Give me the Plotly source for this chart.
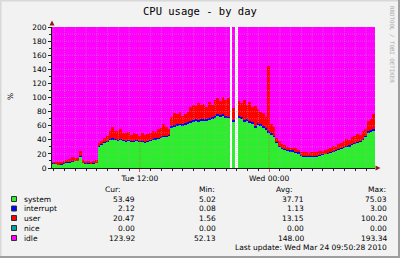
import plotly.graph_objects as go
import pandas as pd

# ---------------- data ----------------
START = "2010-03-23 03:50"
END = "2010-03-24 09:50"
sample_times = pd.date_range(START, periods=120, freq="15min")

system = [7, 6, 5, 5, 6,
          8, 8, 9, 10, 10, 16,
          8, 7, 7, 6, 7, 8,
          30,
          33, 36, 38, 40, 41, 40, 39, 40, 39,
          38, 39, 37, 38, 39, 37, 38, 36, 38,
          39, 40, 41, 42, 43, 44, 45, 46,
          57, 59, 60, 61, 60, 62, 63,
          65, 66, 67, 66, 68, 67, 68, 69, 70,
          72, 74, 73, 74, 72, 71,
          None, 66, None,
          72, 70, 66, 68, 65, 63, 58, 62, 60, 57, 55, 50,
          48, 45, 36, 30,
          28, 26, 25, 24, 24, 22, 21,
          18, 17, 16, 16, 16, 17, 17, 18,
          19, 20, 21, 22, 23, 25, 26, 27, 29, 30, 31, 33, 35, 36, 38, 40, 44, 50, 52, 53]

interrupt = [0.5, 0.5, 0.5, 0.5, 0.5, 0.5, 0.5, 0.5, 0.5, 0.5, 0.5, 0.5, 0.5, 0.5, 0.5, 0.5, 0.5,
             1, 1, 1, 1, 1, 1, 1, 1, 1, 1, 1, 1, 1, 1, 1, 1, 1, 1, 1, 1, 1, 1, 1, 1, 1, 1, 1,
             2, 2, 2, 2, 2, 2, 2, 2, 2, 2, 2, 2, 2, 2, 2, 2, 2, 2, 2, 2, 2, 2,
             None, 2, None,
             2, 2, 2, 2, 2, 2, 2, 2, 2, 2, 2, 2,
             1, 1, 1, 1, 1, 1, 1, 1, 1, 1, 1,
             0.5, 0.5, 0.5, 0.5, 0.5, 0.5, 0.5, 0.5, 0.5, 0.5, 0.5, 0.5, 0.5, 0.5,
             1, 1, 1, 1, 1, 1, 1, 1, 1, 1,
             2, 2, 2, 2]

user = [1.5, 2.5, 2.5, 3.5, 3.5,
        3.5, 4.5, 5.5, 3.5, 3.5, 7.5,
        2.5, 2.5, 2.5, 2.5, 2.5, 2.5,
        4,
        4, 5, 7, 11, 16, 12, 12, 14, 10,
        10, 11, 9, 11, 8, 8, 10, 10, 9,
        10, 12, 9, 12, 13, 18, 12, 9,
        13, 17, 14, 17, 12, 13, 14,
        19, 22, 19, 24, 19, 22, 17, 22, 18,
        23, 24, 20, 25, 22, 26,
        None, 17, None,
        21, 20, 28, 20, 26, 21, 28, 20, 18, 19, 15, 93,
        13, 12, 5, 7,
        5, 5, 4, 4, 3, 5, 4,
        4.5, 4.5, 5.5, 4.5, 5.5, 5.5, 4.5, 5.5,
        4.5, 5.5, 5.5, 6.5, 7.5, 4.5,
        7, 8, 8, 10, 8, 10, 9, 11, 8, 11,
        9, 14, 16, 21]

idle = [191, 191, 192, 191, 190,
        188, 187, 185, 186, 186, 176,
        189, 190, 190, 191, 190, 189,
        165,
        162, 158, 154, 148, 142, 147, 148, 145, 150,
        151, 149, 153, 150, 152, 154, 151, 153, 152,
        150, 147, 149, 145, 143, 137, 142, 144,
        128, 122, 124, 120, 126, 123, 121,
        114, 110, 112, 108, 111, 109, 113, 107, 110,
        103, 100, 105, 99, 104, 101,
        None, 115, None,
        105, 108, 104, 110, 107, 114, 112, 116, 120, 122, 128, 55,
        138, 142, 158, 162,
        166, 168, 170, 171, 172, 172, 174,
        177, 178, 178, 179, 178, 177, 178, 176,
        176, 174, 173, 171, 169, 170, 166, 164, 162, 159, 160, 156, 155, 152, 153, 148, 145, 134, 130, 124]

legend_names = ["system", "interrupt", "user", "nice", "idle"]
legend_cur = ["53.49", "2.12", "20.47", "0.00", "123.92"]
legend_min = ["5.02", "0.08", "1.56", "0.00", "52.13"]
legend_avg = ["37.71", "1.13", "13.15", "0.00", "148.00"]
legend_max = ["75.03", "3.00", "100.20", "0.00", "193.34"]
last_update = "Last update: Wed Mar 24 09:50:28 2010"

x_tick_vals = ["2010-03-23 12:00", "2010-03-24 00:00"]
x_tick_text = ["Tue 12:00", "Wed 00:00"]
y_tick_vals = [0, 20, 40, 60, 80, 100, 120, 140, 160, 180, 200]

# ---------------- styles ----------------
COLORS = {"system": "#2DEE2D", "interrupt": "#0000FF", "user": "#FF0000",
          "nice": "#00A0A0", "idle": "#FF00FF"}
FONT = "DejaVu Sans"
L, R, T, B = 52, 25, 27, 90
W, H = 400, 258
PW, PH = W - L - R, H - T - B


def px(x):
    return (x - L) / PW


def py(y):
    return (H - B - y) / PH


fig = go.Figure()
step_ms = 15 * 60 * 1000
for name, vals in [("system", system), ("interrupt", interrupt), ("user", user), ("idle", idle)]:
    fig.add_trace(go.Bar(x=sample_times, y=vals, name=name, offset=0, width=step_ms,
                         marker=dict(color=COLORS[name], line=dict(width=0)),
                         hoverinfo="skip"))

shapes = []
# grid drawn above the data, as rrdtool does
hours = pd.date_range("2010-03-23 04:00", "2010-03-24 09:00", freq="h")
for h in hours:
    major = h.hour in (0, 12)
    shapes.append(dict(type="line", xref="x", yref="y", x0=h, x1=h, y0=0, y1=200, layer="above",
                       line=dict(color="rgba(222,79,79,0.6)" if major else "rgba(170,170,170,0.45)",
                                 width=1, dash="1px,1px")))
for v in range(10, 200, 10):
    shapes.append(dict(type="line", xref="x", yref="y", x0=START, x1=END, y0=v, y1=v, layer="above",
                       line=dict(color="rgba(170,170,170,0.45)", width=1, dash="1px,1px")))

# arrows
shapes.append(dict(type="path", xref="paper", yref="paper", fillcolor="#8B1A1A", line=dict(width=0),
                   path=f"M {px(49.5)},{py(25.5)} L {px(54.5)},{py(25.5)} L {px(52)},{py(20.5)} Z"))
shapes.append(dict(type="path", xref="paper", yref="paper", fillcolor="#8B1A1A", line=dict(width=0),
                   path=f"M {px(375.5)},{py(165.5)} L {px(375.5)},{py(170.5)} L {px(380.5)},{py(168)} Z"))

# 3-D frame
shapes.append(dict(type="rect", xref="paper", yref="paper", x0=px(0), x1=px(1.5), y0=py(258), y1=py(0),
                   fillcolor="#D8D8D8", line=dict(width=0)))
shapes.append(dict(type="rect", xref="paper", yref="paper", x0=px(0), x1=px(400), y0=py(1.5), y1=py(0),
                   fillcolor="#D8D8D8", line=dict(width=0)))
shapes.append(dict(type="rect", xref="paper", yref="paper", x0=px(398), x1=px(400), y0=py(258), y1=py(0),
                   fillcolor="#9E9E9E", line=dict(width=0)))
shapes.append(dict(type="rect", xref="paper", yref="paper", x0=px(0), x1=px(400), y0=py(258), y1=py(256),
                   fillcolor="#9E9E9E", line=dict(width=0)))

annotations = []


def text(x, y, s, anchor="left", size=7.5, color="#000000", family=FONT, angle=0):
    annotations.append(dict(xref="paper", yref="paper", x=px(x), y=py(y), text=s, showarrow=False,
                            xanchor=anchor, yanchor="middle", textangle=angle,
                            font=dict(family=family, size=size, color=color)))


text(200, 11, "CPU usage - by day", anchor="center", size=10.5, family="DejaVu Sans Mono")
text(10, 97, "%", anchor="center", angle=-90)
text(392, 44, "RRDTOOL / TOBI OETIKER", anchor="center", size=5.8, color="#A8A8A8",
     family="DejaVu Sans Mono", angle=90)

# legend table
text(122, 189, "Cur:", anchor="right")
text(217, 189, "Min:", anchor="right")
text(294, 189, "Avg:", anchor="right")
text(388, 189, "Max:", anchor="right")
row_y = [199, 208.5, 218, 228, 238]
for i, name in enumerate(legend_names):
    yy = row_y[i]
    shapes.append(dict(type="rect", xref="paper", yref="paper", x0=px(11.5), x1=px(16.5),
                       y0=py(yy + 2.5), y1=py(yy - 2.5), fillcolor=COLORS[name],
                       line=dict(color="#303030", width=1)))
    text(22, yy, name)
    text(137, yy, legend_cur[i], anchor="right")
    text(218, yy, legend_min[i], anchor="right")
    text(306, yy, legend_avg[i], anchor="right")
    text(389, yy, legend_max[i], anchor="right")
text(389, 247.5, last_update, anchor="right")

axis_font = dict(family=FONT, size=7.5, color="#000000")
fig.update_layout(
    width=W, height=H, margin=dict(l=L, r=R, t=T, b=B, pad=0),
    paper_bgcolor="#F2F2F2", plot_bgcolor="#FFFFFF",
    barmode="stack", bargap=0, showlegend=False,
    font=axis_font, shapes=shapes, annotations=annotations,
    xaxis=dict(type="date", range=[START, END], tickvals=x_tick_vals, ticktext=x_tick_text,
               ticks="outside", ticklen=3, tickcolor="#DE4F4F", showline=True, linecolor="#1F1F1F",
               linewidth=1, showgrid=False, zeroline=False, tickfont=axis_font, layer="above traces",
               minor=dict(ticks="outside", ticklen=2, dtick=3600000, tick0="2010-03-23 00:00",
                          tickcolor="#1F1F1F", showgrid=False)),
    yaxis=dict(range=[0, 200], tickvals=y_tick_vals, ticks="outside", ticklen=3, tickcolor="#1F1F1F",
               showline=True, linecolor="#1F1F1F", linewidth=1, showgrid=False, zeroline=False,
               tickfont=axis_font, layer="above traces",
               minor=dict(ticks="outside", ticklen=2, dtick=10, tickcolor="#1F1F1F", showgrid=False)),
)

fig.write_html("out.html")
